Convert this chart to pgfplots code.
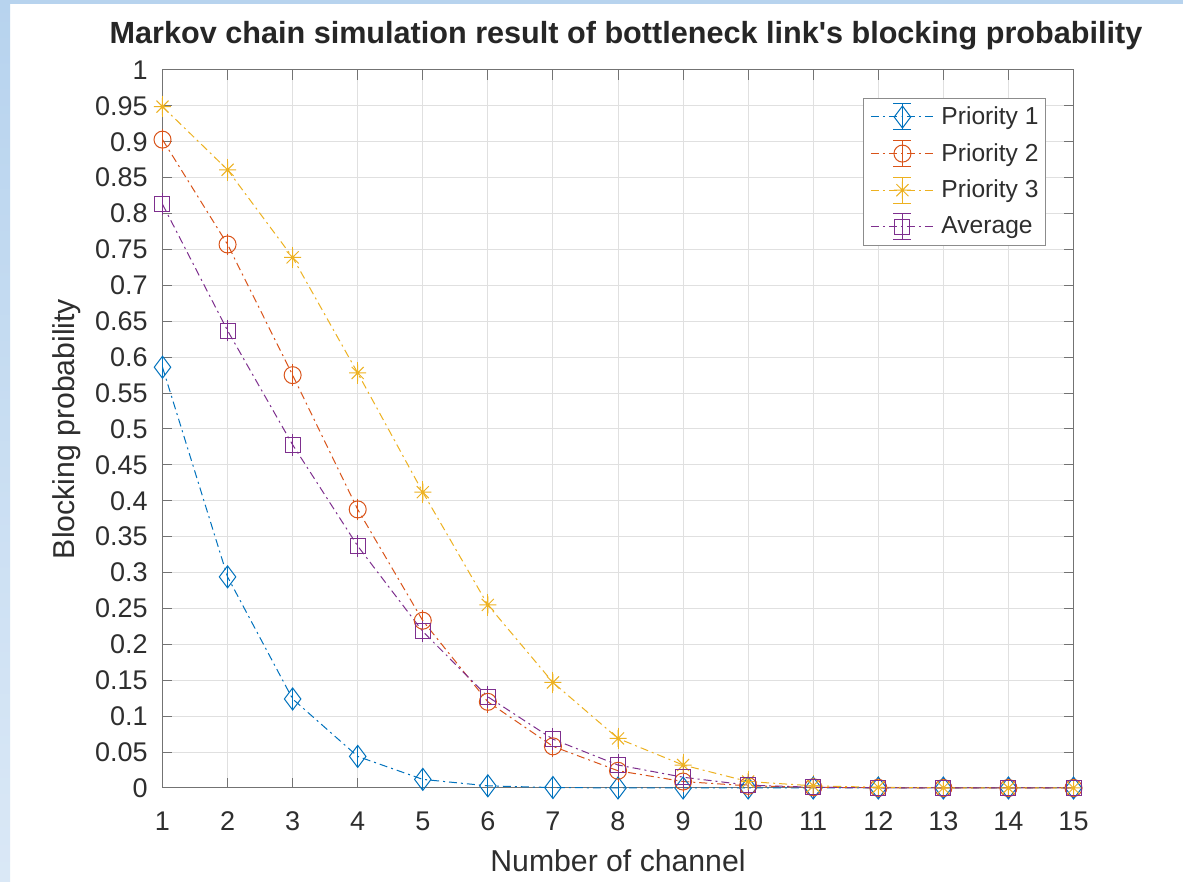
\documentclass[border=0pt]{standalone}
\usepackage{fontspec}
\setmainfont{Liberation Sans}[Ligatures=TeXOff]
\usepackage{pgfplots}
\pgfplotsset{compat=1.18}

\definecolor{mlblue}{rgb}{0,0.447,0.741}
\definecolor{mlorange}{rgb}{0.850,0.325,0.098}
\definecolor{mlyellow}{rgb}{0.929,0.694,0.125}
\definecolor{mlpurple}{rgb}{0.494,0.184,0.556}
\definecolor{axgray}{gray}{0.45}
\definecolor{txtgray}{gray}{0.18}
\definecolor{frametop}{RGB}{183,211,238}
\definecolor{framebot}{RGB}{218,232,246}

% eight-armed asterisk marker (plus and cross)
\pgfdeclareplotmark{mlast}{%
  \pgfpathmoveto{\pgfqpoint{-\pgfplotmarksize}{0pt}}%
  \pgfpathlineto{\pgfqpoint{\pgfplotmarksize}{0pt}}%
  \pgfpathmoveto{\pgfqpoint{0pt}{-\pgfplotmarksize}}%
  \pgfpathlineto{\pgfqpoint{0pt}{\pgfplotmarksize}}%
  \pgfpathmoveto{\pgfqpoint{-.707\pgfplotmarksize}{-.707\pgfplotmarksize}}%
  \pgfpathlineto{\pgfqpoint{.707\pgfplotmarksize}{.707\pgfplotmarksize}}%
  \pgfpathmoveto{\pgfqpoint{-.707\pgfplotmarksize}{.707\pgfplotmarksize}}%
  \pgfpathlineto{\pgfqpoint{.707\pgfplotmarksize}{-.707\pgfplotmarksize}}%
  \pgfusepathqstroke}

\pgfplotstableread{
n   p1      p2      p3      avg
1   0.586   0.903   0.949   0.813
2   0.294   0.757   0.861   0.637
3   0.124   0.575   0.739   0.478
4   0.044   0.388   0.578   0.337
5   0.012   0.233   0.412   0.218
6   0.003   0.120   0.255   0.127
7   0.0006  0.058   0.147   0.068
8   0.0001  0.024   0.069   0.032
9   0       0.009   0.032   0.015
10  0       0.003   0.009   0.004
11  0       0.001   0.003   0.001
12  0       0.0002  0.001   0.0003
13  0       0       0.0002  0.0001
14  0       0       0       0
15  0       0       0       0
}\blocking

\begin{document}
\begin{tikzpicture}
% screen frame strips
\path[use as bounding box] (0,0) rectangle (591.5pt,441pt);
\fill[white] (0,0) rectangle (591.5pt,441pt);
\shade[top color=frametop, bottom color=framebot] (0,0) rectangle (5pt,441pt);
\fill[frametop] (0,439pt) rectangle (591.5pt,441pt);

\begin{axis}[
  at={(81.25pt,47pt)}, anchor=south west,
  scale only axis,
  width=455.5pt, height=359pt,
  xmin=1, xmax=15, ymin=0, ymax=1,
  clip=false,
  xtick={1,...,15},
  ytick={0,0.05,0.1,0.15,0.2,0.25,0.3,0.35,0.4,0.45,0.5,0.55,0.6,0.65,0.7,0.75,0.8,0.85,0.9,0.95,1},
  yticklabels={0,0.05,0.1,0.15,0.2,0.25,0.3,0.35,0.4,0.45,0.5,0.55,0.6,0.65,0.7,0.75,0.8,0.85,0.9,0.95,1},
  /pgf/number format/assume math mode=true,
  tick align=inside,
  major tick length=5pt,
  every tick/.style={axgray, line width=0.5pt},
  axis line style={axgray, line width=0.5pt},
  grid=major,
  major grid style={black!12, line width=0.5pt},
  ticklabel style={font=\fontsize{13.5}{15}\selectfont, text=txtgray, inner sep=0pt},
  xticklabel style={anchor=north, yshift=-11.8pt},
  yticklabel style={anchor=east, xshift=-7.25pt},
  xlabel={Number of channel},
  ylabel={Blocking probability},
  label style={font=\fontsize{15.1}{17}\selectfont, text=txtgray, inner sep=0pt},
  xlabel style={at={([yshift=-42pt]axis description cs:0.5,0)}, anchor=base},
  ylabel style={at={([xshift=-43.75pt]axis description cs:0,0.5)}, anchor=base, rotate=0},
  title={Markov chain simulation result of bottleneck link's blocking probability},
  title style={font=\fontsize{15.3}{17}\selectfont\bfseries, text=black!85, inner sep=0pt,
    at={([xshift=4pt,yshift=7pt]axis description cs:0.5,1)}, anchor=base},
  every axis plot/.append style={line width=0.5pt, dash pattern=on 4pt off 2pt on 1pt off 2pt,
    mark options={solid, line width=0.5pt}},
  error bars/y dir=both,
  error bars/y fixed=0.004,
  error bars/error bar style={solid, line width=0.5pt},
  error bars/error mark options={solid, line width=0.5pt, mark size=4pt},
  legend image code/.code={
    \draw[mark repeat=2, mark phase=2, #1] plot coordinates {(0pt,0pt)(15.75pt,0pt)(31.5pt,0pt)};
    \draw[solid, #1] (15.75pt,-6.5pt) -- (15.75pt,6.5pt)
      (11.25pt,-6.5pt) -- (20.25pt,-6.5pt) (11.25pt,6.5pt) -- (20.25pt,6.5pt);
  },
  legend cell align=left,
  legend style={at={([xshift=-13.75pt,yshift=-14pt]axis description cs:1,1)}, anchor=north east,
    draw=black!45, line width=0.5pt, fill=white,
    font=\fontsize{12.3}{14}\selectfont, text=txtgray,
    inner xsep=3.5pt, inner ysep=2.5pt, row sep=4.8pt, column sep=3.5pt,
    nodes={inner sep=0pt}},
]
\addplot+[mlblue, mark=diamond, mark size=5.5pt] table[x=n, y=p1] {\blocking};
\addlegendentry{Priority 1\hspace{3pt}}
\addplot+[mlorange, mark=o, mark size=4.25pt] table[x=n, y=p2] {\blocking};
\addlegendentry{Priority 2\hspace{3pt}}
\addplot+[mlyellow, mark=mlast, mark size=4.25pt] table[x=n, y=p3] {\blocking};
\addlegendentry{Priority 3\hspace{3pt}}
\addplot+[mlpurple, mark=square, mark size=3.75pt] table[x=n, y=avg] {\blocking};
\addlegendentry{Average}
\end{axis}
\end{tikzpicture}
\end{document}
